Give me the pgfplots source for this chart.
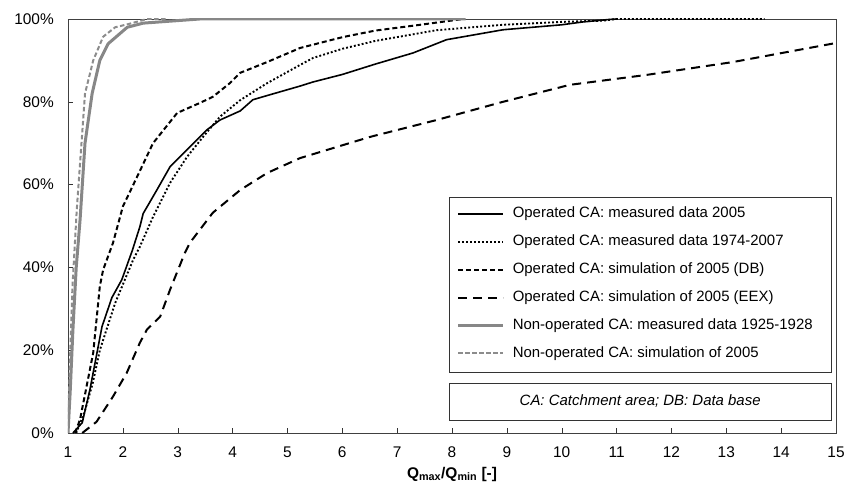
\documentclass[border=0pt]{standalone}
\usepackage{pgfplots}
\pgfplotsset{compat=1.18}
\usepackage{fontspec}
\setmainfont{Liberation Sans}
\definecolor{ncaSolid}{RGB}{135,135,135}
\definecolor{ncaDash}{RGB}{140,140,140}
\begin{document}
\begin{tikzpicture}
\path[use as bounding box] (-68bp,-55bp) rectangle (777bp,433bp);
\begin{axis}[
    scale only axis, anchor=origin, at={(0,0)},
    width=768bp, height=414bp,
    xmin=1, xmax=15, ymin=0, ymax=100,
    xtick={1,2,...,15}, ytick={0,20,...,100},
    yticklabels={0\%,20\%,40\%,60\%,80\%,100\%},
    tick align=inside, major tick length=5bp,
    tick style={black!80, thin},
    axis line style={black!75, thin},
    xtick pos=bottom, ytick pos=left,
    tick label style={font=\fontsize{15.5}{16}\selectfont, /pgf/number format/assume math mode=true},
    yticklabel style={inner sep=0pt, xshift=-14bp},
    xticklabel style={inner sep=0pt, yshift=-14bp},
    xlabel={\textbf{Q\textsubscript{max}/Q\textsubscript{min} [-]}},
    xlabel style={font=\fontsize{15.5}{16}\selectfont, at={(axis description cs:0.5,0)}, anchor=base, yshift=-45bp},
    legend cell align=left,
    legend image code/.code={\draw[#1] (0bp,0bp) -- (45bp,0bp);},
    legend style={at={(rel axis cs:0.506,0.546)}, anchor=north west, draw=none, fill=none,
      inner sep=0pt, row sep=14.4bp, column sep=8bp,
      font=\fontsize{15}{15}\selectfont,
      nodes={inner sep=0pt, text height=10.5bp, text depth=3bp}},
    every axis plot/.append style={line join=round},
]
% operated CA, measured 2005
\addplot[black, line width=1.6bp] coordinates {
(1.09,0) (1.26,2.5) (1.40,10.5) (1.62,25.7) (1.80,32.7) (1.98,37) (2.17,44)
(2.31,49.8) (2.37,53) (2.62,58.7) (2.86,64.3) (3.17,68.4) (3.53,73.2) (3.77,75.6)
(4.14,77.8) (4.37,80.5) (4.68,81.7) (5.23,83.8) (5.47,84.8) (6.0,86.6) (6.6,89.1)
(7.29,91.8) (7.9,95) (8.93,97.4) (10.0,98.6) (10.39,99.3) (10.88,99.9) (11.0,100)};
\addlegendentry{Operated CA: measured data 2005}
% operated CA, measured 1974-2007
\addplot[black, line width=1.9bp, dash pattern=on 1.9bp off 2.1bp] coordinates {
(1.15,0) (1.30,5) (1.45,12) (1.58,20) (1.86,31.4) (2.19,41.9) (2.31,45) (2.55,52.2)
(2.86,60.4) (3.17,66.7) (3.46,71.5) (3.77,76.4) (4.14,80.4) (4.63,84.5) (5.23,88.9)
(5.47,90.6) (6.0,92.8) (6.6,94.7) (7.72,97.3) (8.93,98.6) (10.0,99.3) (10.75,99.6)
(11.0,100) (13.7,100)};
\addlegendentry{Operated CA: measured data 1974-2007}
% operated CA, simulation DB
\addplot[black, line width=2bp, dash pattern=on 5bp off 3bp] coordinates {
(1.13,0) (1.22,3.3) (1.35,12) (1.46,19.4) (1.58,35.4) (1.64,39.4) (1.82,45.9)
(2.0,54.7) (2.26,61.9) (2.55,70) (2.99,77.3) (3.4,79.7) (3.64,81.2) (3.95,84.5)
(4.14,87) (4.63,89.6) (5.23,93) (6.0,95.6) (6.6,97.2) (7.42,98.6) (8.09,99.8) (8.2,100)};
\addlegendentry{Operated CA: simulation of 2005 (DB)}
% operated CA, simulation EEX
\addplot[black, line width=2bp, dash pattern=on 9bp off 6bp] coordinates {
(1.26,0) (1.52,2.7) (1.82,8.8) (2.07,14.5) (2.31,21.8) (2.44,25) (2.68,28.1)
(2.86,34.6) (3.13,43.5) (3.22,45.9) (3.64,53.2) (4.14,58.7) (4.63,62.8) (5.23,66.4)
(6.5,71.5) (7.72,75.6) (8.93,80) (10.15,84.1) (11.55,86.5) (13.12,89.6) (15,94.2)};
\addlegendentry{Operated CA: simulation of 2005 (EEX)}
% non-operated CA, measured 1925-1928
\addplot[ncaSolid, line width=3bp] coordinates {
(1.0,0) (1.04,10) (1.09,25) (1.15,40) (1.22,51.5) (1.31,70) (1.44,82) (1.58,90)
(1.73,94) (2.08,98) (2.37,99) (3.4,100) (8.25,100)};
\addlegendentry{Non-operated CA: measured data 1925-1928}
% non-operated CA, simulation 2005
\addplot[ncaDash, line width=2bp, dash pattern=on 4.5bp off 2.5bp] coordinates {
(1.0,0) (1.03,15) (1.08,35) (1.16,54) (1.31,82) (1.46,90) (1.64,95.7) (1.86,98)
(2.08,98.7) (2.44,100) (2.8,100)};
\addlegendentry{Non-operated CA: simulation of 2005}
% boxes
\draw[black!80, thin] (axis cs:7.945,14.7) rectangle (axis cs:14.91,57.0);
\draw[black!80, thin, fill=white] (axis cs:7.945,3.1) rectangle (axis cs:14.91,12.1);
\node[font=\fontsize{15}{15}\selectfont\itshape] at (axis cs:11.43,7.6) {CA: Catchment area; DB: Data base};
\end{axis}
\end{tikzpicture}
\end{document}
